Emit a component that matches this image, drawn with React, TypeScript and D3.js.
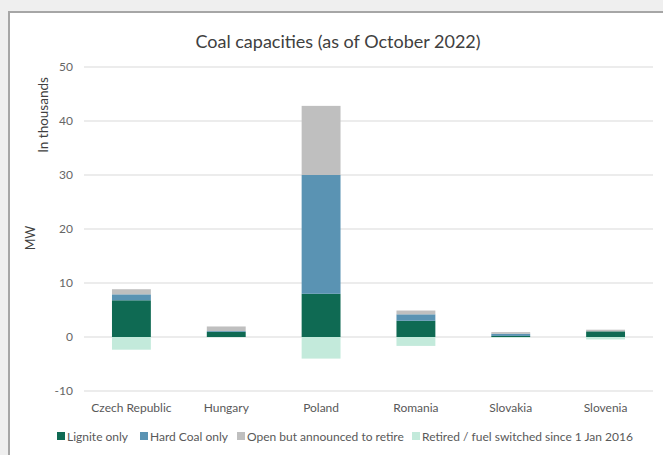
import React from "react";
import * as d3 from "d3";

const countries = ["Czech Republic", "Hungary", "Poland", "Romania", "Slovakia", "Slovenia"];
const lignite = [6.8, 0.95, 8.0, 3.0, 0.2, 1.05];
const hardCoal = [1.1, 0.15, 22.0, 1.2, 0.4, 0.0];
const announced = [0.95, 0.85, 12.8, 0.7, 0.3, 0.3];
const retired = [-2.35, -0.05, -4.0, -1.65, -0.1, -0.45];
const yTicks = [-10, 0, 10, 20, 30, 40, 50];

const seriesNames = ["Lignite only", "Hard Coal only", "Open but announced to retire", "Retired / fuel switched since 1 Jan 2016"];
const colors = ["#0f6a53", "#5a93b3", "#bfbfbf", "#c3eadb"];

const W = 663;
const H = 455;
const FONT = "Lato, 'Open Sans', sans-serif";

export default function App() {
  const x = d3.scaleBand<string>().domain(countries).range([84, 653]).paddingInner(0.59).paddingOuter(0.295);
  const y = d3.scaleLinear().domain([-10, 50]).range([391, 67]);

  const rows = countries.map((c, i) => ({ c, l: lignite[i], h: hardCoal[i], a: announced[i] }));
  const stack = d3.stack<any>().keys(["l", "h", "a"])(rows);

  const legendX = [57, 140, 237, 412];

  return (
    <svg width={W} height={H} style={{ position: "absolute", left: 0, top: 0 }} fontFamily={FONT}>
      <rect x={0} y={0} width={W} height={H} fill="#efefef" />
      <rect x={9} y={12} width={W + 10} height={H + 10} fill="#ffffff" stroke="#a6a6a6" strokeWidth={2} />
      <text x={338} y={48} textAnchor="middle" fontSize={18} fill="#404040">
        Coal capacities (as of October 2022)
      </text>
      {yTicks.map((t) => (
        <g key={t}>
          <line x1={84} x2={653} y1={y(t)} y2={y(t)} stroke="#d9d9d9" strokeWidth={1} />
          <text x={73} y={y(t) + 4} textAnchor="end" fontSize={12} fill="#666666">
            {t}
          </text>
        </g>
      ))}
      <text transform={`translate(35,238) rotate(-90)`} textAnchor="middle" fontSize={12.5} fill="#404040">
        MW
      </text>
      <text transform={`translate(48,115) rotate(-90)`} textAnchor="middle" fontSize={13.5} fill="#404040">
        In thousands
      </text>
      {stack.map((s, si) =>
        s.map((d, i) => (
          <rect
            key={`${si}-${i}`}
            x={x(countries[i])}
            width={x.bandwidth()}
            y={y(d[1])}
            height={Math.max(0, y(d[0]) - y(d[1]))}
            fill={colors[si]}
          />
        ))
      )}
      {retired.map((v, i) => (
        <rect key={`r-${i}`} x={x(countries[i])} width={x.bandwidth()} y={y(0)} height={y(v) - y(0)} fill={colors[3]} />
      ))}
      {countries.map((c) => (
        <text key={c} x={(x(c) as number) + x.bandwidth() / 2} y={412} textAnchor="middle" fontSize={12} fill="#595959">
          {c}
        </text>
      ))}
      {seriesNames.map((n, i) => (
        <g key={n}>
          <rect x={legendX[i]} y={432} width={8} height={8} fill={colors[i]} />
          <text x={legendX[i] + 10} y={441} fontSize={12} fill="#595959">
            {n}
          </text>
        </g>
      ))}
    </svg>
  );
}
